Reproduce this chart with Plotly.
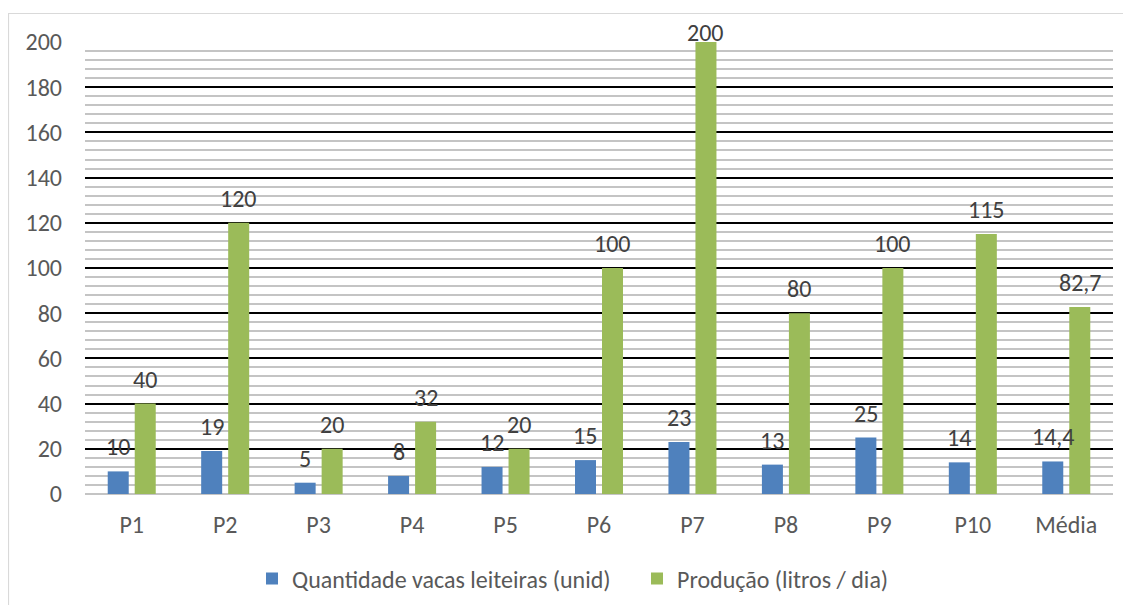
import plotly.graph_objects as go

categories = ["P1", "P2", "P3", "P4", "P5", "P6", "P7", "P8", "P9", "P10", "Média"]
vacas = [10, 19, 5, 8, 12, 15, 23, 13, 25, 14, 14.4]
producao = [40, 120, 20, 32, 20, 100, 200, 80, 100, 115, 82.7]
series_names = ["Quantidade vacas leiteiras (unid)", "Produção (litros / dia)"]
y_ticks = [0, 20, 40, 60, 80, 100, 120, 140, 160, 180, 200]

# page has an 8px body margin; keep the figure inside the 1131x613 viewport
W, H = 1115, 597
ML, MR, MT, MB = 77, 10, 34, 111
PW = W - ML - MR
PH = H - MT - MB
YMAX = 200
px_per_unit = PH / YMAX

FONT = "Carlito, Calibri, Lato, sans-serif"
FS = 24
BLUE = "#4F81BD"
GREEN = "#9BBB59"

def fmt(v):
    s = f"{v:g}"
    return s.replace(".", ",")

fig = go.Figure()
fig.add_trace(go.Bar(x=categories, y=vacas, name=series_names[0], legend="legend",
                     marker=dict(color=BLUE, line=dict(width=0))))
fig.add_trace(go.Bar(x=categories, y=producao, name=series_names[1], legend="legend2",
                     marker=dict(color=GREEN, line=dict(width=0))))

bargap = 0.422
bargroupgap = 0.222
cat_w = PW / len(categories)
slot = cat_w * (1 - bargap) / 2
annotations = []
for vals, sgn in ((vacas, -1), (producao, 1)):
    for c, v in zip(categories, vals):
        shift = min(24.5, (204 - v) * px_per_unit)
        annotations.append(dict(x=c, y=v, xref="x", yref="y", text=fmt(v),
                                showarrow=False, xshift=sgn * slot / 2,
                                yshift=shift, yanchor="middle",
                                font=dict(family=FONT, size=FS, color="#404040")))

leg_y = -(571 - (MT + PH)) / PH  # legend centre at page y 579
def leg(text_left_px):
    return dict(orientation="h", xanchor="left", yanchor="middle",
                x=(text_left_px - 8 - 40 - ML) / PW, y=leg_y,
                font=dict(family=FONT, size=FS, color="#595959"),
                itemclick=False, bgcolor="rgba(0,0,0,0)", borderwidth=0)

fig.update_layout(
    width=W, height=H,
    margin=dict(l=ML, r=MR, t=MT, b=MB, autoexpand=False),
    paper_bgcolor="white", plot_bgcolor="white",
    barmode="group", bargap=bargap, bargroupgap=bargroupgap,
    font=dict(family=FONT, size=FS, color="#595959"),
    showlegend=True,
    legend=leg(292),
    legend2=leg(677),
    annotations=annotations,
    shapes=[dict(type="rect", xref="paper", yref="paper",
                 x0=(0.5 - ML) / PW, x1=(W + 10 - ML) / PW,
                 y0=-(H + 10 - MT - PH) / PH, y1=(PH + MT - 5.5) / PH,
                 line=dict(color="#D9D9D9", width=1.2), fillcolor="rgba(0,0,0,0)",
                 layer="below")],
)
fig.update_yaxes(range=[0, YMAX], tickvals=y_ticks, showgrid=True,
                 gridcolor="#000000", gridwidth=1.5,
                 minor=dict(dtick=4, showgrid=True, gridcolor="#C4C4C4", gridwidth=1.5),
                 zeroline=True, zerolinecolor="#C4C4C4", zerolinewidth=1.5,
                 showline=False, ticks="", ticklabelstandoff=22,
                 tickfont=dict(family=FONT, size=FS, color="#595959"))
fig.update_xaxes(showgrid=False, showline=False, ticks="", ticklabelstandoff=14,
                 tickfont=dict(family=FONT, size=FS, color="#595959"))

fig.write_html("out.html")
